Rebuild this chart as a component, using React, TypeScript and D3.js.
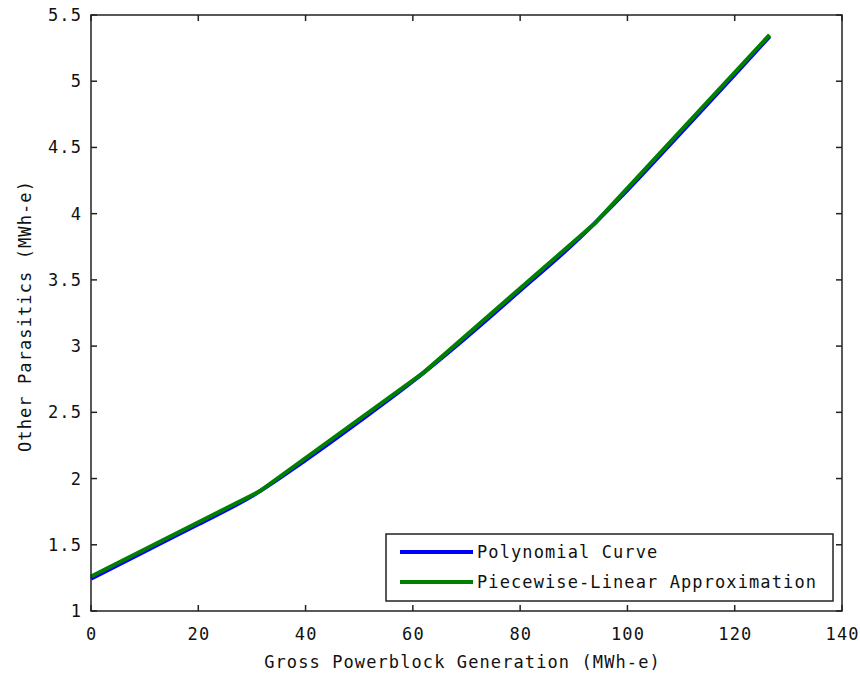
import React from "react";
import * as d3 from "d3";

const xTicks = [0, 20, 40, 60, 80, 100, 120, 140];
const yTicks = [1, 1.5, 2, 2.5, 3, 3.5, 4, 4.5, 5, 5.5];
const yTickLabels = ["1", "1.5", "2", "2.5", "3", "3.5", "4", "4.5", "5", "5.5"];

const polyX = [0, 10, 20, 30, 40, 50, 60, 70, 80, 90, 100, 110, 120, 126.5];
const polyY = [1.243, 1.45, 1.655, 1.868, 2.14, 2.432, 2.735, 3.068, 3.42, 3.776, 4.178, 4.612, 5.05, 5.338];

const pwlX = [0, 31.5, 62, 94, 126.5];
const pwlY = [1.26, 1.905, 2.8, 3.93, 5.35];

const legendLabels = ["Polynomial Curve", "Piecewise-Linear Approximation"];
const colors = ["#0000ff", "#008000"];

const W = 860, H = 676;
const L = 91, R = 842, T = 15, B = 611;
const font = "'DejaVu Sans Mono', 'Liberation Mono', monospace";

export default function App() {
  const x = d3.scaleLinear().domain([0, 140]).range([L, R]);
  const y = d3.scaleLinear().domain([1, 5.5]).range([B, T]);
  const line = d3.line<[number, number]>().x(d => x(d[0])).y(d => y(d[1]));
  const poly = polyX.map((v, i) => [v, polyY[i]] as [number, number]);
  const pwl = pwlX.map((v, i) => [v, pwlY[i]] as [number, number]);
  const ts = { fontFamily: font, fontSize: 17, letterSpacing: 1.1, fill: "#111" } as const;
  const tl = 6;
  return (
    <svg width={W} height={H} style={{ position: "absolute", left: 0, top: 0, background: "#fff" }}>
      <rect x={0} y={0} width={W} height={H} fill="#fff" />
      <path d={line.curve(d3.curveMonotoneX)(poly) || ""} fill="none" stroke={colors[0]} strokeWidth={4} />
      <path d={line.curve(d3.curveLinear)(pwl) || ""} fill="none" stroke={colors[1]} strokeWidth={4} />
      <rect x={L} y={T} width={R - L} height={B - T} fill="none" stroke="#222" strokeWidth={1.5} />
      {xTicks.map(t => (
        <g key={"x" + t}>
          <line x1={x(t)} x2={x(t)} y1={B} y2={B - tl} stroke="#222" strokeWidth={1.5} />
          <line x1={x(t)} x2={x(t)} y1={T} y2={T + tl} stroke="#222" strokeWidth={1.5} />
          <text x={x(t) + 0.6} y={640} textAnchor="middle" {...ts}>{String(t)}</text>
        </g>
      ))}
      {yTicks.map((t, i) => (
        <g key={"y" + t}>
          <line x1={L} x2={L + tl} y1={y(t)} y2={y(t)} stroke="#222" strokeWidth={1.5} />
          <line x1={R} x2={R - tl} y1={y(t)} y2={y(t)} stroke="#222" strokeWidth={1.5} />
          <text x={82} y={y(t) + 6} textAnchor="end" {...ts}>{yTickLabels[i]}</text>
        </g>
      ))}
      <text x={(L + R) / 2 - 4} y={668} textAnchor="middle" {...ts}>Gross Powerblock Generation (MWh-e)</text>
      <text transform={`translate(31, ${(T + B) / 2 + 3}) rotate(-90)`} textAnchor="middle" {...ts}>Other Parasitics (MWh-e)</text>
      <rect x={386} y={534} width={447} height={67} fill="#fff" stroke="#222" strokeWidth={1.5} />
      {legendLabels.map((lab, i) => (
        <g key={lab}>
          <line x1={400} x2={473} y1={552 + i * 30} y2={552 + i * 30} stroke={colors[i]} strokeWidth={4} />
          <text x={477} y={558 + i * 30} {...ts}>{lab}</text>
        </g>
      ))}
    </svg>
  );
}
